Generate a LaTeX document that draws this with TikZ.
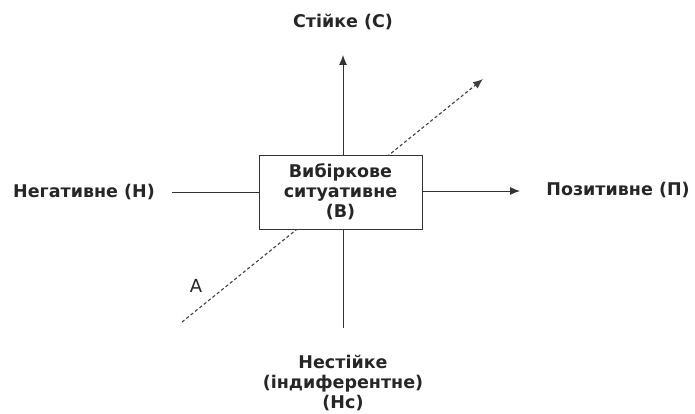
\documentclass[tikz,border=0pt]{standalone}
\usepackage{fontspec}
\setmainfont{DejaVu Sans}
\usetikzlibrary{arrows.meta}
\begin{document}
\begin{tikzpicture}[x=1pt,y=-1pt,
  lbl/.style={font=\bfseries\fontsize{17.5}{20}\selectfont, text=black!85, inner sep=0pt, align=center},
  axis/.style={draw=black!80, line width=0.9pt},
  tip/.style={-{Latex[length=10pt,width=8pt]}}]
\useasboundingbox (0,0) rectangle (695,414);
\coordinate (atail) at (182,322);
\coordinate (ahead) at (483,79);
\draw[black!75, line width=1.1pt, dash pattern=on 3.2pt off 2.4pt, -{Latex[length=10pt,width=8pt]}] (atail) -- (ahead);
\node[lbl, draw=black!80, line width=0.9pt, fill=white, minimum width=163pt, minimum height=74pt] (box) at (340.5,192) {Вибіркове\\ситуативне\\(В)};
\node[lbl] (top) at (343,22) {Стійке (С)};
\node[lbl] (left) at (84,192) {Негативне (Н)};
\node[lbl] (right) at (618,190) {Позитивне (П)};
\node[lbl] (bottom) at (343,383) {Нестійке\\(індиферентне)\\(Нс)};
\node[font=\fontsize{18}{20}\selectfont, text=black!85, inner sep=0pt] (alab) at (196,286) {A};
\coordinate (topend) at (343,55);
\coordinate (botend) at (343,328);
\coordinate (leftend) at (172,192);
\coordinate (rightend) at (520,191);
\draw[axis, tip] (box.north -| topend) -- (topend);
\draw[axis] (box.south -| botend) -- (botend);
\draw[axis] (leftend) -- (box.west |- leftend);
\draw[axis, tip] (box.east |- rightend) -- (rightend);
\end{tikzpicture}
\end{document}
